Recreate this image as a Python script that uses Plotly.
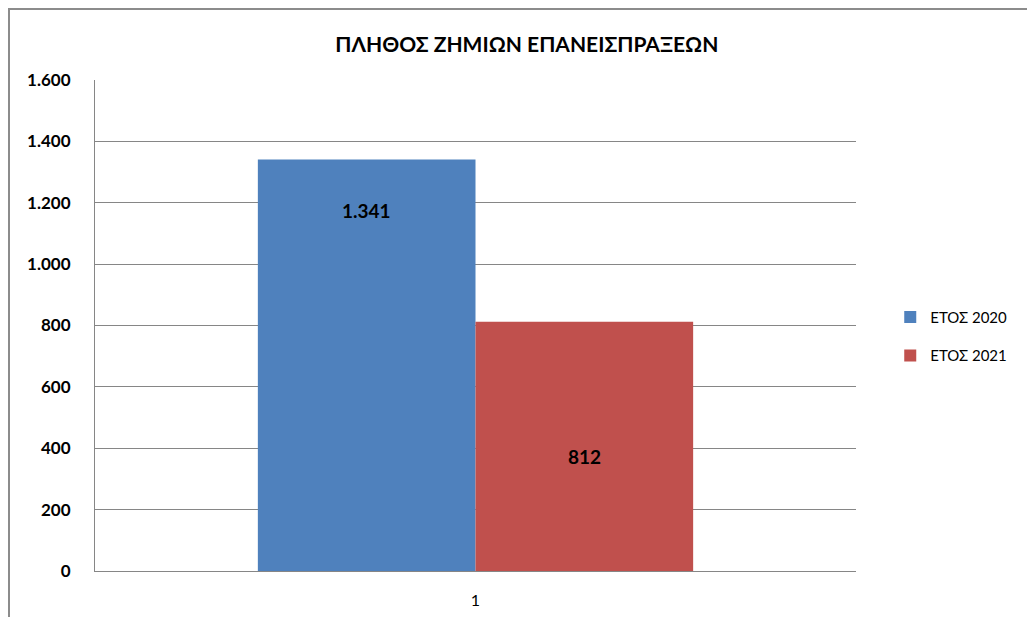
import plotly.graph_objects as go

categories = ["1"]
series_names = ["ΕΤΟΣ 2020", "ΕΤΟΣ 2021"]
values_2020 = [1341]
values_2021 = [812]
colors = ["#4F81BD", "#C0504D"]
title_text = "ΠΛΗΘΟΣ ΖΗΜΙΩΝ ΕΠΑΝΕΙΣΠΡΑΞΕΩΝ"
tick_vals = [0, 200, 400, 600, 800, 1000, 1200, 1400, 1600]

FONT = "Lato, 'Open Sans', sans-serif"

fig = go.Figure()
for name, vals, col in zip(series_names, [values_2020, values_2021], colors):
    fig.add_trace(go.Bar(x=categories, y=vals, name=name, marker_color=col,
                         marker_line_width=0, legendgroup=name))

# value labels
label_shifts = [-51, -135]
for i, (vals, sh) in enumerate(zip([values_2020, values_2021], label_shifts)):
    fig.add_annotation(x=0, y=vals[0], text=f"{vals[0]:,}".replace(",", "."),
                       showarrow=False, yshift=sh, xshift=(-109 if i == 0 else 109),
                       font=dict(family=FONT, size=19, color="#000", weight="bold"))

fig.update_layout(
    width=1027, height=617,
    paper_bgcolor="white", plot_bgcolor="white",
    margin=dict(l=95, r=171, t=80, b=46, autoexpand=False),
    separators=",.",
    barmode="group", bargap=0.428, bargroupgap=0,
    title=dict(text=title_text, x=0.513, xanchor="center", y=1 - 45 / 617, yanchor="middle",
               font=dict(family=FONT, size=21, color="#000", weight="bold")),
    legend=dict(x=1.045, xanchor="left", y=0.478, yanchor="middle",
                font=dict(family=FONT, size=15, color="#000"), tracegroupgap=16,
                itemwidth=30),
    xaxis=dict(type="category", showgrid=False, showline=True, linecolor="#868686", linewidth=1,
               ticks="", tickfont=dict(family=FONT, size=16, color="#000"), ticklabelstandoff=15,
               automargin=False),
    yaxis=dict(range=[0, 1600], tickvals=tick_vals, tickformat=",d", showgrid=True,
               gridcolor="#868686", gridwidth=1, showline=True, linecolor="#868686",
               linewidth=1, zeroline=False, ticks="", ticklen=0,
               tickfont=dict(family=FONT, size=17, color="#000", weight="bold"),
               ticklabelstandoff=20, automargin=False),
    shapes=[dict(type="rect", xref="paper", yref="paper", x0=-0.113, x1=1.3, y0=-0.2, y1=1.1446,
                 line=dict(color="#8c8c8c", width=2), fillcolor="rgba(0,0,0,0)", layer="below")],
)

fig.write_html("out.html", config={"displayModeBar": False},
               post_script="document.body.style.margin='0px';document.body.style.overflow='hidden';")
